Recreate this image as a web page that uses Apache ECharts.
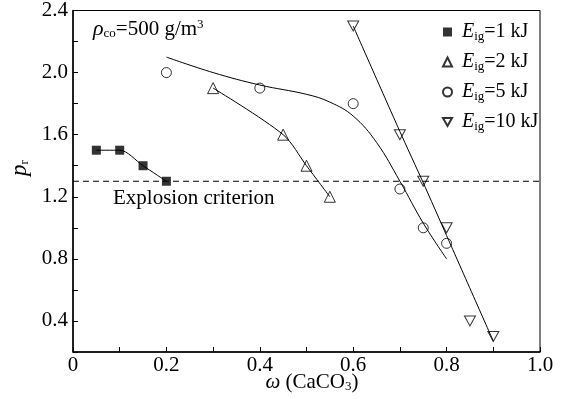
<!DOCTYPE html>
<html><head><meta charset="utf-8">
<script src="https://cdn.jsdelivr.net/npm/echarts@6/dist/echarts.min.js"></script>
<style>html,body{margin:0;padding:0;background:#fff}#c{width:563px;height:399px}</style>
</head><body><div id="c"></div>
<script>
const FONT = '"Liberation Serif","Times New Roman",serif';
// measured points
const xE1 = [0.05, 0.10, 0.15, 0.20];
const yE1 = [1.50, 1.50, 1.40, 1.30];
const xE2 = [0.30, 0.45, 0.50, 0.55];
const yE2 = [1.90, 1.60, 1.40, 1.20];
const xE5 = [0.20, 0.40, 0.60, 0.70, 0.75, 0.80];
const yE5 = [2.00, 1.90, 1.80, 1.25, 1.00, 0.90];
const xE10 = [0.60, 0.70, 0.75, 0.80, 0.85, 0.90];
const yE10 = [2.30, 1.60, 1.30, 1.00, 0.40, 0.30];
// fitted curves
const xFit5 = [0.20, 0.30, 0.40, 0.50, 0.55, 0.60, 0.65, 0.70, 0.75, 0.80];
const yFit5 = [2.10, 2.00, 1.92, 1.86, 1.81, 1.72, 1.55, 1.30, 1.03, 0.80];
const xFit10 = [0.60, 0.70, 0.75, 0.80, 0.90];
const yFit10 = [2.30, 1.62, 1.29, 0.95, 0.27];
const criterion = 1.3;
const criterionX = [0, 1.0];
const energies = ['1', '2', '5', '10'];
const xTickLabels = ['0', '0.2', '0.4', '0.6', '0.8', '1.0'];
const yTickLabels = ['0.4', '0.8', '1.2', '1.6', '2.0', '2.4'];

const zip = (xs, ys) => xs.map((x, i) => [x, ys[i]]);
const hollow = { color: 'rgba(0,0,0,0)', borderColor: '#000', borderWidth: 1 };
const lineStyle = { color: '#000', width: 1 };
const names = energies.map(e => 'E' + e);

const chart = echarts.init(document.getElementById('c'), null, { renderer: 'canvas' });
const sub = { fontFamily: FONT, fontSize: 13, color: '#000', padding: [9, 0, 0, 0] };
chart.setOption({
  animation: false,
  backgroundColor: '#fff',
  textStyle: { fontFamily: FONT, color: '#000' },
  grid: { left: 73, right: 23, top: 9, bottom: 47, show: true, borderColor: '#000', borderWidth: 1, backgroundColor: 'transparent' },
  xAxis: {
    type: 'value', min: 0, max: 1.0, interval: 0.1,
    axisLine: { onZero: false, lineStyle: { color: '#000', width: 1.5 } },
    axisTick: { inside: true, length: 5, lineStyle: { color: '#000', width: 1 } },
    splitLine: { show: false },
    axisLabel: {
      color: '#000', fontFamily: FONT, fontSize: 21, margin: 3,
      formatter: v => { const k = Math.round(v / 0.2); return Math.abs(v / 0.2 - k) < 1e-6 ? xTickLabels[k] : ''; }
    }
  },
  yAxis: {
    type: 'value', min: 0.2, max: 2.4, interval: 0.2,
    axisLine: { onZero: false, lineStyle: { color: '#000', width: 1.5 } },
    axisTick: { inside: true, length: 5, lineStyle: { color: '#000', width: 1 } },
    splitLine: { show: false },
    axisLabel: {
      color: '#000', fontFamily: FONT, fontSize: 21, margin: 5,
      formatter: v => { const k = Math.round(v / 0.4); return (Math.abs(v / 0.4 - k) < 1e-6 && k >= 1) ? yTickLabels[k - 1] : ''; }
    }
  },
  legend: {
    orient: 'vertical', left: 437, top: 17, itemWidth: 9, itemHeight: 9, itemGap: 9,
    data: names,
    formatter: n => '{e|E}{s|ig}{t|=' + n.slice(1) + ' kJ}',
    textStyle: {
      fontFamily: FONT, fontSize: 20, color: '#000',
      rich: {
        e: { fontFamily: FONT, fontSize: 20, fontStyle: 'italic', color: '#000', padding: [0, 0, 0, 5] },
        s: sub,
        t: { fontFamily: FONT, fontSize: 20, color: '#000' }
      }
    }
  },
  graphic: [
    { type: 'text', left: 93, top: 18, style: {
        text: '{i|ρ}{s|co}{t|=500 g/m}{u|3}', fontFamily: FONT, fontSize: 21,
        rich: {
          i: { fontFamily: FONT, fontSize: 22, fontStyle: 'italic', color: '#000' },
          s: sub,
          t: { fontFamily: FONT, fontSize: 21, color: '#000' },
          u: { fontFamily: FONT, fontSize: 13, color: '#000', padding: [0, 0, 10, 0] }
        } } },
    { type: 'text', left: 113, top: 188, style: { text: 'Explosion criterion', fontFamily: FONT, fontSize: 21, fill: '#000' } },
    { type: 'text', x: 312, y: 382, style: {
        text: '{w|ω}{t| (CaCO}{s|3}{t|)}', fontFamily: FONT, fontSize: 21, align: 'center', verticalAlign: 'middle',
        rich: {
          w: { fontFamily: FONT, fontSize: 21, fontStyle: 'italic', color: '#000' },
          t: { fontFamily: FONT, fontSize: 21, color: '#000' },
          s: sub
        } } },
    { type: 'text', x: 20, y: 168, rotation: Math.PI / 2, style: {
        text: '{p|p}{s|r}', fontFamily: FONT, fontSize: 22, align: 'center', verticalAlign: 'middle',
        rich: {
          p: { fontFamily: FONT, fontSize: 23, fontStyle: 'italic', color: '#000' },
          s: { fontFamily: FONT, fontSize: 13, color: '#000', padding: [9, 0, 0, 0] }
        } } }
  ],
  series: [
    { type: 'line', data: zip(criterionX, [criterion, criterion]), symbol: 'none', silent: true,
      lineStyle: { color: '#000', width: 1, type: [6, 4] }, z: 1 },
    { type: 'line', data: zip(xE1, yE1), smooth: 0.3, symbol: 'none', lineStyle, silent: true, z: 2 },
    { type: 'line', data: zip(xE2, yE2), smooth: 0.3, symbol: 'none', lineStyle, silent: true, z: 2 },
    { type: 'line', data: zip(xFit5, yFit5), smooth: 0.4, symbol: 'none', lineStyle, silent: true, z: 2 },
    { type: 'line', data: zip(xFit10, yFit10), smooth: 0.2, symbol: 'none', lineStyle, silent: true, z: 2 },
    { name: names[0], type: 'scatter', data: zip(xE1, yE1), symbol: 'rect', symbolSize: 9,
      itemStyle: { color: '#000' }, z: 5 },
    { name: names[1], type: 'scatter', data: zip(xE2, yE2), symbol: 'triangle', symbolSize: 11,
      itemStyle: hollow, z: 5 },
    { name: names[2], type: 'scatter', data: zip(xE5, yE5), symbol: 'circle', symbolSize: 10,
      itemStyle: hollow, z: 5 },
    { name: names[3], type: 'scatter', data: zip(xE10, yE10), symbol: 'path://M0,0 L10,0 L5,8.66 Z', symbolSize: [11, 10],
      itemStyle: hollow, z: 5 }
  ]
});
</script></body></html>
